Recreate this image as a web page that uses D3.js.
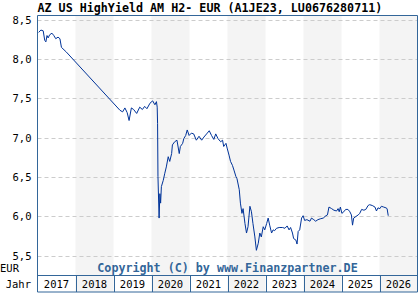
<!doctype html>
<html>
<head>
  <script src="https://d3js.org/d3.v7.min.js"></script>
  <style>
    body { margin: 0; background: #fff; }
    text { font-family: 'DejaVu Sans Mono', monospace; }
  </style>
</head>
<body>
  <svg width="420" height="300"></svg>
  <script>
    var title = "AZ US HighYield AM H2- EUR (A1JE23, LU0676280711)";
    var years = [2017, 2018, 2019, 2020, 2021, 2022, 2023, 2024, 2025, 2026];
    var yTicks = [5.5, 6.0, 6.5, 7.0, 7.5, 8.0, 8.5];

    // decimal year / price in EUR
    var dates = [2017.03, 2017.09, 2017.15, 2017.19, 2017.22, 2017.25, 2017.28, 2017.32, 2017.38, 2017.43,
      2017.48, 2017.54, 2017.59, 2017.63, 2017.76, 2019.17, 2019.24, 2019.30, 2019.36, 2019.41,
      2019.47, 2019.53, 2019.61, 2019.69, 2019.76, 2019.82, 2019.88, 2019.96, 2020.03, 2020.09,
      2020.13, 2020.15, 2020.16, 2020.17, 2020.20, 2020.22, 2020.24, 2020.26, 2020.31, 2020.35,
      2020.39, 2020.44, 2020.48, 2020.53, 2020.55, 2020.61, 2020.67, 2020.73, 2020.76, 2020.82,
      2020.85, 2020.90, 2020.94, 2020.99, 2021.05, 2021.11, 2021.18, 2021.25, 2021.32, 2021.38,
      2021.45, 2021.52, 2021.58, 2021.64, 2021.69, 2021.75, 2021.82, 2021.87, 2021.90, 2021.96,
      2021.99, 2022.04, 2022.08, 2022.13, 2022.17, 2022.22, 2022.25, 2022.31, 2022.34, 2022.38,
      2022.41, 2022.46, 2022.50, 2022.54, 2022.59, 2022.63, 2022.67, 2022.72, 2022.76, 2022.81,
      2022.85, 2022.89, 2022.94, 2022.98, 2023.03, 2023.07, 2023.11, 2023.16, 2023.20, 2023.24,
      2023.29, 2023.36, 2023.45, 2023.51, 2023.57, 2023.62, 2023.66, 2023.71, 2023.74, 2023.80,
      2023.83, 2023.86, 2023.90, 2023.95, 2023.99, 2024.03, 2024.09, 2024.17, 2024.21, 2024.27,
      2024.32, 2024.38, 2024.44, 2024.52, 2024.59, 2024.63, 2024.67, 2024.74, 2024.80, 2024.87,
      2024.91, 2024.94, 2024.97, 2025.01, 2025.06, 2025.11, 2025.17, 2025.22, 2025.26, 2025.29,
      2025.32, 2025.38, 2025.44, 2025.48, 2025.53, 2025.59, 2025.64, 2025.70, 2025.74, 2025.81,
      2025.88, 2025.92, 2025.96, 2026.01, 2026.05, 2026.11, 2026.17, 2026.20, 2026.23];
    var prices = [8.34, 8.37, 8.36, 8.24, 8.22, 8.30, 8.27, 8.31, 8.33, 8.30,
      8.26, 8.28, 8.26, 8.15, 8.09, 7.35, 7.33, 7.38, 7.32, 7.22,
      7.38, 7.36, 7.31, 7.39, 7.36, 7.40, 7.37, 7.44, 7.47, 7.42,
      7.46, 7.39, 7.18, 6.51, 5.98, 6.29, 6.17, 6.38, 6.46, 6.55,
      6.63, 6.76, 6.70, 6.80, 6.91, 6.95, 6.97, 6.80, 6.89, 6.93,
      6.99, 7.03, 7.10, 7.03, 7.06, 7.05, 6.97, 7.02, 6.97, 7.01,
      7.05, 7.09, 7.03, 6.98, 7.05, 6.99, 6.95, 6.97, 6.89, 6.93,
      6.87, 6.78, 6.70, 6.65, 6.59, 6.51, 6.48, 6.34, 6.17, 6.04,
      6.10, 5.91, 5.79, 5.87, 6.13, 6.06, 5.91, 5.74, 5.57, 5.66,
      5.79, 5.74, 5.87, 5.83, 5.91, 5.98, 5.89, 5.79, 5.83, 5.82,
      5.85, 5.86, 5.86, 5.85, 5.88, 5.83, 5.86, 5.79, 5.72, 5.70,
      5.65, 5.81, 5.83, 5.98, 6.01, 5.95, 5.96, 5.94, 5.98, 5.96,
      5.94, 5.96, 5.97, 5.98, 6.01, 6.02, 6.12, 6.10, 6.08, 6.07,
      6.10, 6.06, 6.12, 6.04, 6.06, 6.09, 6.09, 6.06, 6.02, 5.89,
      5.98, 6.00, 6.02, 6.04, 6.09, 6.08, 6.09, 6.14, 6.15, 6.14,
      6.12, 6.07, 6.11, 6.10, 6.13, 6.12, 6.11, 6.10, 6.01];

    var plotLeft = 37.5, plotRight = 417.5, plotTop = 15.5, plotBottom = 275.5, axisBottom = 292;
    var frame = "#336699";

    var x = d3.scaleLinear().domain([2017, 2027]).range([plotLeft, plotRight]);
    var y = d3.scaleLinear().domain([5.25, 8.555]).range([plotBottom, plotTop]);

    var svg = d3.select("svg");

    // alternating year columns
    svg.selectAll("rect.col")
      .data(years.filter((d, i) => i % 2 == 1))
      .enter()
      .append("rect")
      .attr("x", d => x(d))
      .attr("y", plotTop)
      .attr("width", d => x(d + 1) - x(d))
      .attr("height", axisBottom - plotTop)
      .style("fill", "#f4f4f4");

    // grid
    svg.selectAll("line.grid")
      .data(yTicks)
      .enter()
      .append("line")
      .attr("x1", plotLeft)
      .attr("x2", plotRight)
      .attr("y1", d => Math.round(y(d)) + 0.5)
      .attr("y2", d => Math.round(y(d)) + 0.5)
      .style("stroke", "#cccccc")
      .style("stroke-dasharray", "4,3");

    // y labels
    var yAxis = svg.append("g")
      .attr("transform", "translate(" + (plotLeft - 6) + ",0)")
      .call(d3.axisLeft(y).tickValues(yTicks).tickSize(0).tickPadding(0)
        .tickFormat(d => d3.format(".1f")(d).replace(".", ",")));
    yAxis.select(".domain").remove();
    yAxis.selectAll("text")
      .style("font-family", "'DejaVu Sans Mono', monospace")
      .style("font-size", "10.5px")
      .style("fill", "#000");

    // price line
    var line = d3.line()
      .x((d, i) => x(dates[i]))
      .y(d => y(d));
    svg.append("path")
      .datum(prices)
      .attr("d", line)
      .style("fill", "none")
      .style("stroke", "#003399")
      .style("stroke-width", 1);

    // frame
    svg.append("path")
      .attr("d", "M" + plotLeft + "," + axisBottom + "V" + plotTop + "H" + plotRight + "V" + axisBottom + "H" + plotLeft)
      .style("fill", "none")
      .style("stroke", frame);
    svg.append("line")
      .attr("x1", plotLeft).attr("x2", plotRight)
      .attr("y1", plotBottom).attr("y2", plotBottom)
      .style("stroke", frame);

    // year cells
    svg.selectAll("line.sep")
      .data(years.slice(1))
      .enter()
      .append("line")
      .attr("x1", d => Math.round(x(d)) + 0.5)
      .attr("x2", d => Math.round(x(d)) + 0.5)
      .attr("y1", plotBottom)
      .attr("y2", axisBottom)
      .style("stroke", frame);
    svg.selectAll("text.year")
      .data(years)
      .enter()
      .append("text")
      .attr("x", d => x(d + 0.5))
      .attr("y", 288)
      .attr("text-anchor", "middle")
      .style("font-size", "10.5px")
      .text(d => d);

    svg.append("text")
      .attr("x", plotLeft)
      .attr("y", 12)
      .style("font-size", "11.7px")
      .style("font-weight", "bold")
      .text(title);

    svg.append("text")
      .attr("x", (plotLeft + plotRight) / 2)
      .attr("y", 271.5)
      .attr("text-anchor", "middle")
      .style("font-size", "11.7px")
      .style("font-weight", "bold")
      .style("fill", "#336699")
      .text("Copyright (C) by www.Finanzpartner.DE");

    svg.append("text")
      .attr("x", 0)
      .attr("y", 272)
      .style("font-size", "10.5px")
      .text("EUR");
    svg.append("text")
      .attr("x", 31)
      .attr("y", 288)
      .attr("text-anchor", "end")
      .style("font-size", "10.5px")
      .text("Jahr");
  </script>
</body>
</html>
